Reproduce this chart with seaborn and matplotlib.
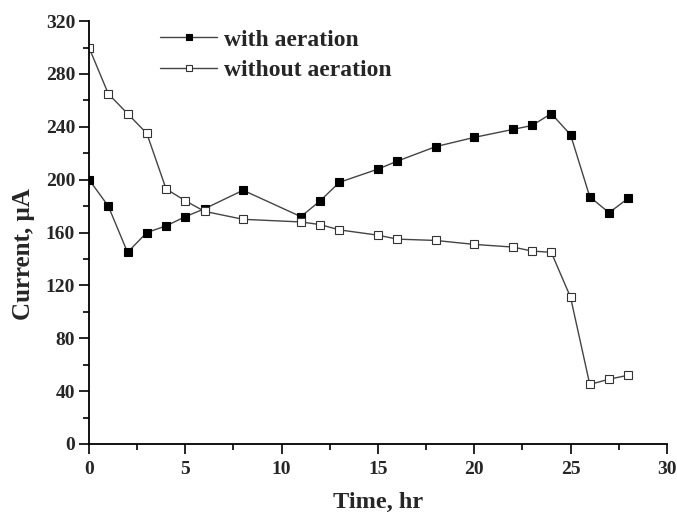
import matplotlib
matplotlib.use("Agg")
import matplotlib.pyplot as plt
from matplotlib.ticker import MultipleLocator
import seaborn as sns
import pandas as pd

time_with = [0, 1, 2, 3, 4, 5, 6, 8, 11, 12, 13, 15, 16, 18, 20, 22, 23, 24, 25, 26, 27, 28]
with_aeration = [200, 180, 145, 160, 165, 172, 178, 192, 172, 184, 198, 208, 214, 225, 232, 238, 241, 250, 234, 187, 175, 186]
time_without = [0, 1, 2, 3, 4, 5, 6, 8, 11, 12, 13, 15, 16, 18, 20, 22, 23, 24, 25, 26, 27, 28]
without_aeration = [300, 265, 250, 235, 193, 184, 176, 170, 168, 166, 162, 158, 155, 154, 151, 149, 146, 145, 111, 45, 49, 52]
x_ticks = [0, 5, 10, 15, 20, 25, 30]
y_ticks = [0, 40, 80, 120, 160, 200, 240, 280, 320]

sns.set_style("ticks")
plt.rcParams['font.family'] = ['Liberation Serif', 'DejaVu Serif']
plt.rcParams['font.weight'] = 'bold'

df1 = pd.DataFrame({"t": time_with, "v": with_aeration})
df2 = pd.DataFrame({"t": time_without, "v": without_aeration})

fig = plt.figure(figsize=(6.77, 5.15), dpi=100)
ax = fig.add_axes([0.1315, 0.138, 0.8535, 0.821])

sns.lineplot(data=df1, x="t", y="v", ax=ax, color="#444444", lw=1.0, marker="s",
             markersize=5.5, markerfacecolor="black", markeredgecolor="black",
             markeredgewidth=0.8, label="with aeration")
sns.lineplot(data=df2, x="t", y="v", ax=ax, color="#444444", lw=1.0, marker="s",
             markersize=5.5, markerfacecolor="white", markeredgecolor="#333333",
             markeredgewidth=0.8, label="without aeration")

ax.set_xlim(0, 30)
ax.set_ylim(0, 320)
ax.set_xticks(x_ticks)
ax.set_yticks(y_ticks)
ax.xaxis.set_minor_locator(MultipleLocator(2.5))
ax.yaxis.set_minor_locator(MultipleLocator(20))
ax.tick_params(axis='both', which='major', direction='out', length=7, width=1.2,
               labelsize=14, color='black')
ax.tick_params(axis='x', which='major', pad=5)
ax.tick_params(axis='y', which='major', pad=3)
ax.tick_params(axis='both', which='minor', direction='out', length=4, width=1.2, color='black')
for lab in ax.get_xticklabels() + ax.get_yticklabels():
    lab.set_fontweight('bold')
sns.despine(ax=ax)
ax.spines['left'].set_linewidth(1.3)
ax.spines['bottom'].set_linewidth(1.3)
ax.spines['left'].set_color('black')
ax.spines['bottom'].set_color('black')

ax.set_xlabel("Time, hr", fontsize=17.5, fontweight='bold', labelpad=10)
ax.set_ylabel("Current, \u03bcA", fontsize=18, fontweight='bold')
ax.yaxis.set_label_coords(-0.093, 0.449)

leg = ax.legend(loc='upper left', bbox_to_anchor=(0.095, 1.02), frameon=False,
                handlelength=2.4, borderpad=0.2, labelspacing=0.38,
                handletextpad=0.3, markerscale=0.7,
                prop={'weight': 'bold', 'size': 17})

fig.savefig("out.png", dpi=100)
